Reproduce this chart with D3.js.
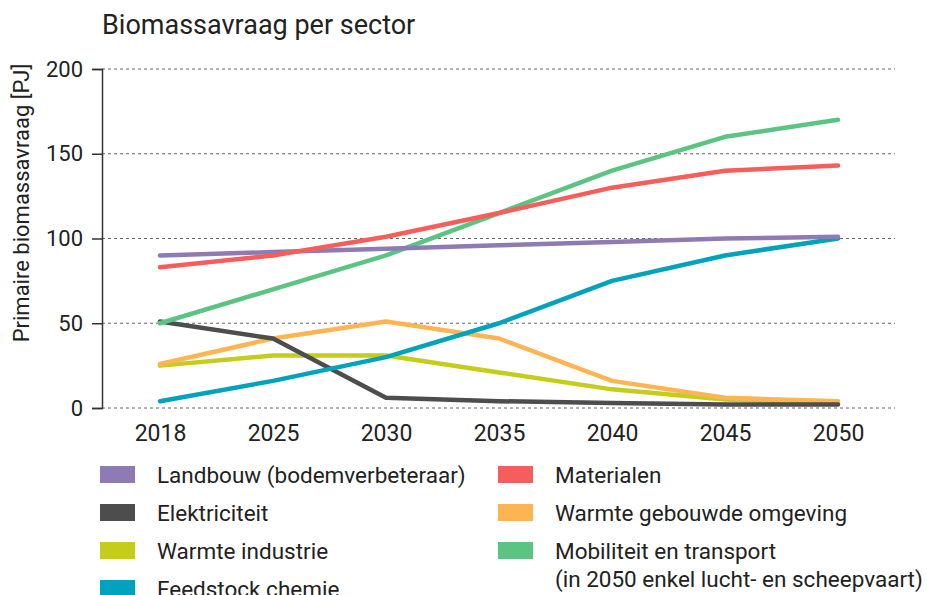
<!DOCTYPE html>
<html>
<head>
<meta charset="utf-8">
<script src="https://cdn.jsdelivr.net/npm/d3@7"></script>
<style>
  body { margin: 0; background: #fff; }
  text { font-family: Roboto, "Open Sans", sans-serif; fill: #222; }
</style>
</head>
<body>
<svg id="chart" width="927" height="595"></svg>
<script>
var years = ["2018", "2025", "2030", "2035", "2040", "2045", "2050"];
var yTicks = [0, 50, 100, 150, 200];

var landbouw = [90, 92, 94, 96, 98, 100, 101];
var materialen = [83, 90, 101, 115, 130, 140, 143];
var mobiliteit = [50, 70, 90, 115, 140, 160, 170];
var feedstock = [4, 16, 30, 50, 75, 90, 100];
var elektriciteit = [51, 41, 6, 4, 3, 2, 2];
var warmteGebouwd = [26, 41, 51, 41, 16, 6, 4];
var warmteIndustrie = [25, 31, 31, 21, 11, 5, 3];

// drawing order roughly as in the picture (later = on top)
var series = [
    {name: "Warmte industrie", values: warmteIndustrie, color: "#c5cc1a"},
    {name: "Warmte gebouwde omgeving", values: warmteGebouwd, color: "#fdb553"},
    {name: "Elektriciteit", values: elektriciteit, color: "#4d4d4d"},
    {name: "Feedstock chemie", values: feedstock, color: "#00a3bb"},
    {name: "Mobiliteit en transport", values: mobiliteit, color: "#5cc483"},
    {name: "Landbouw (bodemverbeteraar)", values: landbouw, color: "#8e7bb4"},
    {name: "Materialen", values: materialen, color: "#f65e5c"}
];

var legendItems = [
    {name: "Landbouw (bodemverbeteraar)", color: "#8e7bb4", col: 0, row: 0},
    {name: "Elektriciteit", color: "#4d4d4d", col: 0, row: 1},
    {name: "Warmte industrie", color: "#c5cc1a", col: 0, row: 2},
    {name: "Feedstock chemie", color: "#00a3bb", col: 0, row: 3},
    {name: "Materialen", color: "#f65e5c", col: 1, row: 0},
    {name: "Warmte gebouwde omgeving", color: "#fdb553", col: 1, row: 1},
    {name: "Mobiliteit en transport\n(in 2050 enkel lucht- en scheepvaart)", color: "#5cc483", col: 1, row: 2}
];

var svg = d3.select("#chart"),
    plotLeft = 102, plotRight = 895, plotTop = 69, plotBottom = 408;

var x = d3.scalePoint().domain(years).range([160, 838]),
    y = d3.scaleLinear().domain([0, 200]).range([plotBottom, plotTop]);

// title
svg.append("text")
    .attr("x", 102).attr("y", 34)
    .style("font-size", "27px")
    .text("Biomassavraag per sector");

// y label
svg.append("text")
    .attr("transform", "translate(29,203) rotate(-90)")
    .style("text-anchor", "middle")
    .style("font-size", "22px")
    .text("Primaire biomassavraag [PJ]");

// grid lines
svg.append("g").selectAll("line")
    .data(yTicks)
    .join("line")
    .attr("x1", plotLeft).attr("x2", plotRight)
    .attr("y1", function (d) { return y(d); })
    .attr("y2", function (d) { return y(d); })
    .attr("stroke", "#666")
    .attr("stroke-width", 1)
    .attr("stroke-dasharray", "3,3");

// y axis
var yAxis = svg.append("g")
    .attr("transform", "translate(" + plotLeft + ",0)")
    .call(d3.axisLeft(y).tickValues(yTicks).tickSize(10).tickPadding(9));
yAxis.select(".domain").attr("stroke", "#333").attr("stroke-width", 1.5);
yAxis.selectAll(".tick line").attr("stroke", "#333").attr("stroke-width", 1.5);
yAxis.selectAll(".tick text").style("font-size", "22px").attr("fill", "#222")
    .style("font-family", "Roboto, sans-serif");

// x axis (labels only)
var xAxis = svg.append("g")
    .attr("transform", "translate(0," + plotBottom + ")")
    .call(d3.axisBottom(x).tickSize(0).tickPadding(17));
xAxis.select(".domain").remove();
xAxis.selectAll(".tick text").style("font-size", "23px").attr("fill", "#222")
    .style("font-family", "Roboto, sans-serif");

// lines
var line = d3.line()
    .x(function (d, i) { return x(years[i]); })
    .y(function (d) { return y(d); });

svg.append("g").selectAll("path")
    .data(series)
    .join("path")
    .attr("fill", "none")
    .attr("stroke", function (d) { return d.color; })
    .attr("stroke-width", 4.5)
    .attr("stroke-linecap", "round")
    .attr("stroke-linejoin", "round")
    .attr("d", function (d) { return line(d.values); });

// legend
var legend = svg.append("g").selectAll("g")
    .data(legendItems)
    .join("g")
    .attr("transform", function (d) {
        return "translate(" + (d.col === 0 ? 100 : 498) + "," + (466 + d.row * 38) + ")";
    });
legend.append("rect")
    .attr("width", 35).attr("height", 17)
    .attr("fill", function (d) { return d.color; });
legend.append("text")
    .attr("x", 57)
    .attr("y", 17)
    .style("font-size", "22.5px")
    .selectAll("tspan")
    .data(function (d) { return d.name.split("\n"); })
    .join("tspan")
    .attr("x", 57)
    .attr("dy", function (d, i) { return i === 0 ? 0 : 28; })
    .text(function (d) { return d; });
</script>
</body>
</html>
